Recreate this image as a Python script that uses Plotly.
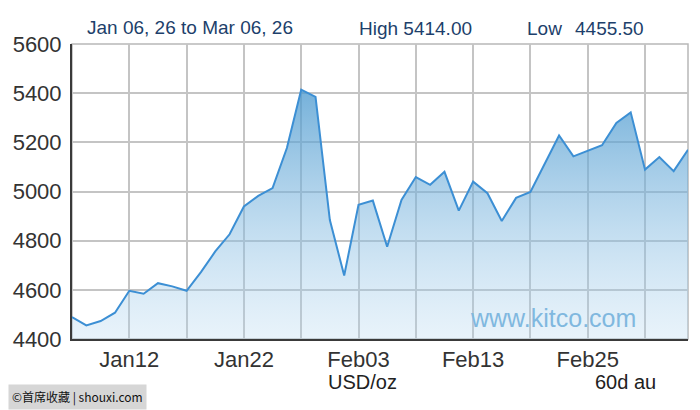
import plotly.graph_objects as go

# trading days Jan 06 - Mar 06 (gold spot, USD/oz)
dates = [
    "Jan06", "Jan07", "Jan08", "Jan09",
    "Jan12", "Jan13", "Jan14", "Jan15", "Jan16",
    "Jan19", "Jan20", "Jan21", "Jan22", "Jan23",
    "Jan26", "Jan27", "Jan28", "Jan29", "Jan30",
    "Feb02", "Feb03", "Feb04", "Feb05", "Feb06",
    "Feb09", "Feb10", "Feb11", "Feb12", "Feb13",
    "Feb16", "Feb17", "Feb18", "Feb19", "Feb20",
    "Feb23", "Feb24", "Feb25", "Feb26", "Feb27",
    "Mar02", "Mar03", "Mar04", "Mar05", "Mar06",
]
prices = [
    4489, 4455.5, 4473, 4507,
    4596, 4584, 4627, 4614, 4596,
    4672, 4756, 4826, 4939, 4982,
    5014, 5177, 5414, 5385, 4884,
    4658, 4946, 4963, 4775, 4966,
    5059, 5027, 5080, 4922, 5040,
    4993, 4880, 4974, 4998, 5116,
    5228, 5143, 5167, 5188, 5279,
    5322, 5089, 5140, 5083, 5170,
]
labelled = ["Jan12", "Jan22", "Feb03", "Feb13", "Feb25"]
y_ticks = [4400, 4600, 4800, 5000, 5200, 5400, 5600]

grid_vals = dates[::4]
grid_text = [d if d in labelled else "" for d in grid_vals]

tick_font = dict(family="Liberation Sans, Arial", size=22, color="#333333")
head_font = dict(family="Liberation Sans, Arial", size=19, color="#1d3f6b")
unit_font = dict(family="Liberation Sans, Arial", size=20, color="#222222")

# the page body adds an 8px margin, so the figure is 8px smaller each way
W, H = 692, 402
L, R, T, B = 64, 12, 36, 71
pw, ph = W - L - R, H - T - B


def px(x):
    return (x - 8 - L) / pw


def py(y):
    return (H - B - (y - 8)) / ph


fig = go.Figure()
fig.add_trace(go.Scatter(
    x=dates, y=prices,
    mode="lines",
    line=dict(color="#3c8fd4", width=2),
    fill="tozeroy",
    fillgradient=dict(
        type="vertical",
        start=4400, stop=5450,
        colorscale=[[0, "rgba(180,215,240,0.3)"], [1, "rgba(70,150,205,0.78)"]],
    ),
    hoverinfo="x+y",
))

# grey frame for top / right, dark axis lines drawn over it
fig.add_shape(type="rect", xref="paper", yref="paper", x0=0, x1=1, y0=0, y1=1,
              line=dict(color="#b8b8b8", width=1.5), layer="below")

anns = [
    dict(text="Jan 06, 26 to Mar 06, 26", x=px(85), y=py(28), font=head_font),
    dict(text="High " + f"{max(prices):.2f}", x=px(357), y=py(29), font=head_font),
    dict(text="Low", x=px(525), y=py(29), font=head_font),
    dict(text=f"{min(prices):.2f}", x=px(573), y=py(29), font=head_font),
    dict(text="USD/oz", x=px(326), y=py(382), font=unit_font),
    dict(text="60d au", x=px(593), y=py(382), font=unit_font),
    dict(text="www.kitco.com", x=px(468), y=py(318),
         font=dict(family="Liberation Sans, Arial", size=25, color="#80b8df")),
    dict(text="©首席收藏 | shouxi.com", x=px(8), y=py(410), yanchor="bottom",
         bgcolor="#d6d6d6", borderpad=3,
         font=dict(family="Noto Sans CJK SC", size=12, color="#111111")),
]
for a in anns:
    a.setdefault("yanchor", "middle")
    fig.add_annotation(xref="paper", yref="paper", xanchor="left", showarrow=False, **a)

fig.update_layout(
    width=W, height=H,
    margin=dict(l=L, r=R, t=T, b=B),
    paper_bgcolor="white", plot_bgcolor="white",
    showlegend=False,
    xaxis=dict(
        type="category", range=[0, len(dates) - 1],
        tickvals=grid_vals, ticktext=grid_text,
        showgrid=True, gridcolor="#c4c4c4", gridwidth=1.5,
        showline=True, linecolor="#3a3a3a", linewidth=2,
        ticks="", tickfont=tick_font, zeroline=False, automargin=False,
    ),
    yaxis=dict(
        range=[4400, 5600], tickvals=y_ticks,
        showgrid=True, gridcolor="#c4c4c4", gridwidth=1.5,
        showline=True, linecolor="#3a3a3a", linewidth=2,
        ticks="", tickfont=tick_font, ticklabelstandoff=4, zeroline=False,
        automargin=False,
    ),
)

fig.write_html("out.html")
